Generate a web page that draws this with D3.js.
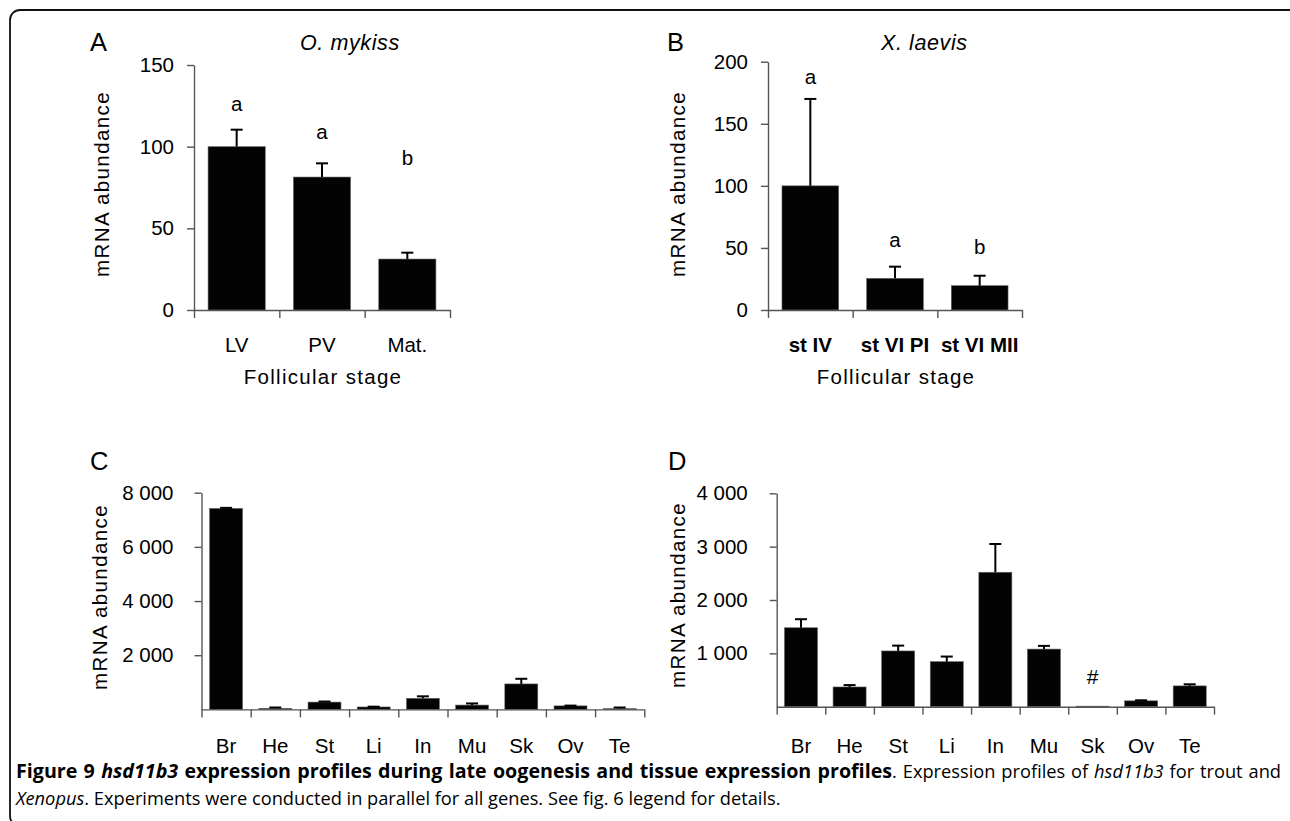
<!DOCTYPE html>
<html><head><meta charset="utf-8">
<script src="https://cdn.jsdelivr.net/npm/d3@7"></script>
<style>
body{margin:0;background:#fff}
svg{display:block}
text{font-family:"Liberation Sans",Arial,Helvetica,sans-serif;fill:#000}
.cap text{font-family:"Open Sans","Noto Sans",sans-serif}
</style>
</head><body>
<svg id="chart" width="1290" height="821"></svg>
<script>
// ---------------- DATA ----------------
const stagesA = ["LV", "PV", "Mat."];
const valuesA = [100, 81.4, 31.2];
const errorsA = [10.4, 8.4, 3.9];
const lettersA = ["a", "a", "b"];
const letterPosA = [126, 109, 93];
const ticksA = [0, 50, 100, 150];

const stagesB = ["st IV", "st VI PI", "st VI MII"];
const valuesB = [100, 25.5, 19.6];
const errorsB = [70, 9.4, 8];
const lettersB = ["a", "a", "b"];
const letterPosB = [187.6, 56.4, 50.7];
const ticksB = [0, 50, 100, 150, 200];

const tissues = ["Br", "He", "St", "Li", "In", "Mu", "Sk", "Ov", "Te"];
const valuesC = [7420, 40, 270, 90, 410, 160, 940, 130, 30];
const errorsC = [20, 30, 20, 10, 73, 60, 190, 10, 40];
const ticksC = [2000, 4000, 6000, 8000];

const valuesD = [1480, 370, 1045, 845, 2520, 1080, 10, 110, 390];
const errorsD = [160, 35, 100, 95, 530, 60, 0, 10, 30];
const marksD = ["", "", "", "", "", "", "#", "", ""];
const markPosD = [0, 0, 0, 0, 0, 0, 563, 0, 0];
const ticksD = [1000, 2000, 3000, 4000];

// ---------------- DRAW ----------------
const svg = d3.select("#chart");
const locale = d3.formatLocale({decimal: ".", thousands: " ", grouping: [3], currency: ["", ""]});
const fmtSpace = locale.format(",");

// frame
svg.append("rect").attr("x", 10).attr("y", 10).attr("width", 1290).attr("height", 816)
  .attr("rx", 10).attr("fill", "none").attr("stroke", "#111").attr("stroke-width", 1.8);

function panel(o) {
  const n = o.cats.length;
  const x = d3.scaleBand().domain(o.cats).range([o.x0, o.x1]).paddingInner(o.pad).paddingOuter(o.pad / 2);
  const y = d3.scaleLinear().domain([0, o.ymax]).range([o.y0, o.y1]);
  const g = svg.append("g");

  // bars
  g.selectAll("rect.bar").data(o.cats).join("rect").attr("class", "bar")
    .attr("x", d => x(d)).attr("width", x.bandwidth())
    .attr("y", (d, i) => y(o.vals[i])).attr("height", (d, i) => y(0) - y(o.vals[i]))
    .attr("fill", "#030303").attr("stroke", "#666").attr("stroke-width", 0.6);

  // error bars (upper only)
  const eb = g.selectAll("g.err").data(o.cats).join("g").attr("class", "err")
    .filter((d, i) => o.errs[i] > 0);
  eb.append("line")
    .attr("x1", d => x(d) + x.bandwidth() / 2).attr("x2", d => x(d) + x.bandwidth() / 2)
    .attr("y1", d => y(o.vals[o.cats.indexOf(d)]))
    .attr("y2", d => { const i = o.cats.indexOf(d); return y(o.vals[i] + o.errs[i]); })
    .attr("stroke", "#000").attr("stroke-width", 2);
  eb.append("line")
    .attr("x1", d => x(d) + x.bandwidth() / 2 - 6).attr("x2", d => x(d) + x.bandwidth() / 2 + 6)
    .attr("y1", d => { const i = o.cats.indexOf(d); return y(o.vals[i] + o.errs[i]); })
    .attr("y2", d => { const i = o.cats.indexOf(d); return y(o.vals[i] + o.errs[i]); })
    .attr("stroke", "#000").attr("stroke-width", 2);

  // significance letters
  if (o.letters) {
    g.selectAll("text.let").data(o.cats).join("text").attr("class", "let")
      .filter((d, i) => o.letters[i] !== "")
      .attr("x", d => x(d) + x.bandwidth() / 2)
      .attr("y", d => y(o.letterPos[o.cats.indexOf(d)]))
      .attr("dy", "0.35em").attr("text-anchor", "middle")
      .attr("font-size", o.letterSize || 20.5)
      .text(d => o.letters[o.cats.indexOf(d)]);
  }

  // y axis
  const ya = g.append("g").attr("transform", `translate(${o.x0},0)`)
    .call(d3.axisLeft(y).tickValues(o.ticks).tickSize(7).tickSizeOuter(0)
      .tickPadding(o.tickPad).tickFormat(o.fmt));
  ya.select(".domain").attr("stroke", "#555").attr("stroke-width", 1.4);
  ya.selectAll(".tick line").attr("stroke", "#555").attr("stroke-width", 1.4);
  ya.selectAll(".tick text").attr("font-size", 20.5).attr("font-family", "Liberation Sans, Arial, sans-serif").attr("fill", "#000");

  // x axis with ticks at band boundaries
  const xb = d3.scaleLinear().domain([0, n]).range([o.x0, o.x1]);
  const xa = g.append("g").attr("transform", `translate(0,${o.y0})`)
    .call(d3.axisBottom(xb).tickValues(d3.range(n + 1)).tickSize(8).tickSizeOuter(0).tickFormat(""));
  xa.select(".domain").attr("stroke", "#555").attr("stroke-width", 1.4);
  xa.selectAll(".tick line").attr("stroke", "#555").attr("stroke-width", 1.4);

  // category labels
  g.selectAll("text.cat").data(o.cats).join("text").attr("class", "cat")
    .attr("x", d => x(d) + x.bandwidth() / 2)
    .attr("y", o.y0 + o.catDy)
    .attr("text-anchor", "middle").attr("font-size", o.catSize || 20.5)
    .attr("font-weight", o.catBold ? "bold" : "normal")
    .text(d => d);

  // titles
  if (o.xTitle) {
    g.append("text").attr("x", (o.x0 + o.x1) / 2 + 1).attr("y", o.y0 + o.xTitleDy)
      .attr("text-anchor", "middle").attr("font-size", 20.5).attr("letter-spacing", 1.3)
      .text(o.xTitle);
  }
  g.append("text")
    .attr("transform", `translate(${o.yTitleX},${o.yTitleY}) rotate(-90)`)
    .attr("text-anchor", "middle").attr("dy", "0.35em")
    .attr("font-size", 20.5).attr("letter-spacing", 1.4)
    .text("mRNA abundance");
  g.append("text").attr("x", o.labX).attr("y", o.labY).attr("dy", "0.36em")
    .attr("font-size", 25.5).text(o.label);
  if (o.species) {
    g.append("text").attr("x", o.spX).attr("y", o.labY).attr("dy", "0.36em")
      .attr("font-size", 21.5).attr("font-style", "italic").attr("letter-spacing", 0.6).text(o.species);
  }
}

panel({cats: stagesA, vals: valuesA, errs: errorsA, letters: lettersA, letterPos: letterPosA,
  ticks: ticksA, ymax: 150, x0: 194, x1: 450, y0: 310, y1: 65, pad: 0.33, tickPad: 13,
  fmt: d3.format("d"), catDy: 42, xTitle: "Follicular stage", xTitleDy: 74,
  yTitleX: 102, yTitleY: 184, label: "A", labX: 90, labY: 42, species: "O. mykiss", spX: 300});

panel({cats: stagesB, vals: valuesB, errs: errorsB, letters: lettersB, letterPos: letterPosB,
  ticks: ticksB, ymax: 200, x0: 768, x1: 1022, y0: 310, y1: 61.7, pad: 0.33, tickPad: 13,
  fmt: d3.format("d"), catDy: 42, catBold: true, catSize: 20.5, xTitle: "Follicular stage", xTitleDy: 74,
  yTitleX: 678, yTitleY: 184, label: "B", labX: 667, labY: 42, species: "X. laevis", spX: 881});

panel({cats: tissues, vals: valuesC, errs: errorsC,
  ticks: ticksC, ymax: 8000, x0: 201.5, x1: 644.3, y0: 709.4, y1: 492.7, pad: 0.33, tickPad: 21,
  fmt: fmtSpace, catDy: 44,
  yTitleX: 100, yTitleY: 597, label: "C", labX: 90, labY: 461});

panel({cats: tissues, vals: valuesD, errs: errorsD, letters: marksD, letterPos: markPosD, letterSize: 21,
  ticks: ticksD, ymax: 4000, x0: 776.7, x1: 1214, y0: 706.7, y1: 493.3, pad: 0.32, tickPad: 22,
  fmt: fmtSpace, catDy: 46,
  yTitleX: 678, yTitleY: 595, label: "D", labX: 668, labY: 461});

// ---------------- CAPTION ----------------
const boldRatio = 1.035, regRatio = 0.96;
const cap = svg.append("g").attr("class", "cap");
const line1 = cap.append("text").attr("x", 16).attr("y", 778);
line1.append("tspan").attr("class", "b").attr("font-weight", "bold").text("Figure 9 ");
line1.append("tspan").attr("class", "b").attr("font-weight", "bold").attr("font-style", "italic").text("hsd11b3");
line1.append("tspan").attr("class", "b").attr("font-weight", "bold").text(" expression profiles during late oogenesis and tissue expression profiles");
line1.append("tspan").attr("class", "r").text(". Expression profiles of ");
line1.append("tspan").attr("class", "r").attr("font-style", "italic").text("hsd11b3");
line1.append("tspan").attr("class", "r").text(" for trout and");

function sizeLine(base) {
  line1.selectAll("tspan.b").attr("font-size", base * boldRatio);
  line1.selectAll("tspan.r").attr("font-size", base * regRatio);
}
const target = 1281 - 16;
sizeLine(16);
const n16 = line1.node().getComputedTextLength();
const base = Math.min(19, 16 * target / n16 * 0.997);
sizeLine(base);
const natural = line1.node().getComputedTextLength();
const spaces = (line1.text().match(/ /g) || []).length;
if (natural < target) line1.attr("word-spacing", (target - natural) / spaces);

const line2 = cap.append("text").attr("x", 16).attr("y", 805).attr("font-size", base * regRatio);
line2.append("tspan").attr("font-style", "italic").text("Xenopus");
line2.append("tspan").text(". Experiments were conducted in parallel for all genes. See fig. 6 legend for details.");
</script>
</body></html>
